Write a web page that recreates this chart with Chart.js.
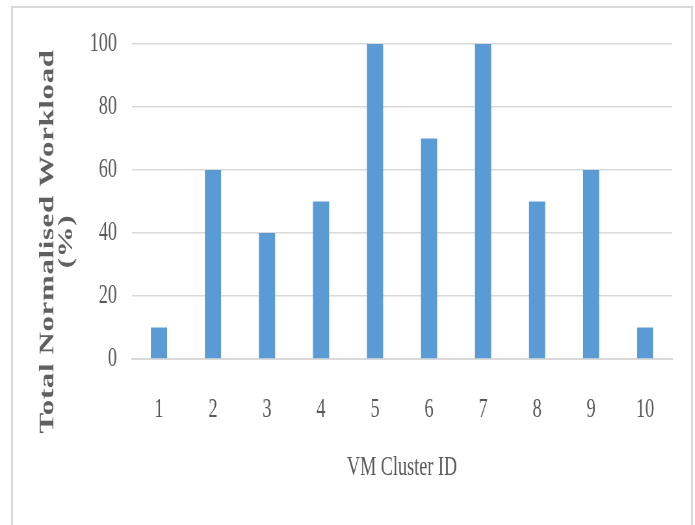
<!DOCTYPE html>
<html>
<head>
<meta charset="utf-8">
<script src="https://cdn.jsdelivr.net/npm/chart.js@4/dist/chart.umd.min.js"></script>
<style>
  html, body { margin: 0; padding: 0; background: #ffffff; overflow: hidden; width: 695px; height: 525px; }
  #wrap { position: absolute; left: 0; top: 0; width: 695px; height: 525px; overflow: hidden; }
  /* the chart is laid out wide and narrowed horizontally, giving condensed lettering */
  #chart { position: absolute; left: 0; top: 0; transform: scaleX(0.65); transform-origin: 0 0; }
  #frame { position: absolute; left: 11px; top: 6px; width: 682px; height: 540px; box-sizing: border-box; border: 2px solid #d9d9d9; pointer-events: none; }
</style>
</head>
<body>
<div id="wrap">
  <canvas id="chart" width="1069" height="525"></canvas>
  <div id="frame"></div>
</div>
<script>
// VM cluster identifiers and their total normalised workload (%)
const clusterIds = ['1', '2', '3', '4', '5', '6', '7', '8', '9', '10'];
const workload = [10, 60, 40, 50, 100, 70, 100, 50, 60, 10];
const yTicks = [0, 20, 40, 60, 80, 100];

const textGrey = '#595959';
const serif = "'Liberation Serif', 'Times New Roman', serif";

// Spaces out the y-axis title and centres it lower, on the whole figure
const yTitleStyle = {
  id: 'yTitleStyle',
  beforeDraw(chart) {
    const scale = chart.scales.y;
    if (!scale || scale._styledTitle) return;
    const original = scale.drawTitle;
    scale.drawTitle = function () {
      const ctx = this.ctx;
      ctx.save();
      ctx.translate(0, 40);
      ctx.letterSpacing = '0.6px';
      original.call(this);
      ctx.restore();
    };
    scale._styledTitle = true;
  }
};

new Chart(document.getElementById('chart'), {
  type: 'bar',
  data: {
    labels: clusterIds,
    datasets: [{
      data: workload,
      backgroundColor: '#5B9BD5',
      borderWidth: 0,
      categoryPercentage: 1.0,
      barPercentage: 0.3
    }]
  },
  options: {
    responsive: false,
    animation: false,
    events: [],
    layout: { padding: { left: 59, right: 35, top: 44, bottom: 41 } },
    plugins: {
      legend: { display: false },
      tooltip: { enabled: false }
    },
    scales: {
      x: {
        grid: { display: false, drawTicks: false },
        border: { display: true, color: '#d9d9d9', width: 2 },
        ticks: {
          color: textGrey,
          font: { family: serif, size: 28 },
          padding: 34,
          maxRotation: 0
        },
        title: {
          display: true,
          text: 'VM Cluster ID',
          color: textGrey,
          font: { family: serif, size: 28 },
          padding: { top: 0, bottom: 0 }
        },
        afterFit: (scale) => { scale.height = 125; }
      },
      y: {
        min: 0,
        max: 100,
        afterBuildTicks: (scale) => { scale.ticks = yTicks.map(v => ({ value: v })); },
        grid: { color: '#d9d9d9', lineWidth: 1.5, drawTicks: false },
        border: { display: false },
        ticks: {
          color: textGrey,
          font: { family: serif, size: 28 },
          padding: 23
        },
        title: {
          display: true,
          text: ['Total Normalised Workload', '(%)'],
          color: '#606060',
          font: { family: serif, size: 31, weight: 'bold', lineHeight: 0.95 },
          padding: { top: 0, bottom: 0 }
        },
        afterFit: (scale) => { scale.width = 144; }
      }
    }
  },
  plugins: [yTitleStyle]
});
</script>
</body>
</html>
